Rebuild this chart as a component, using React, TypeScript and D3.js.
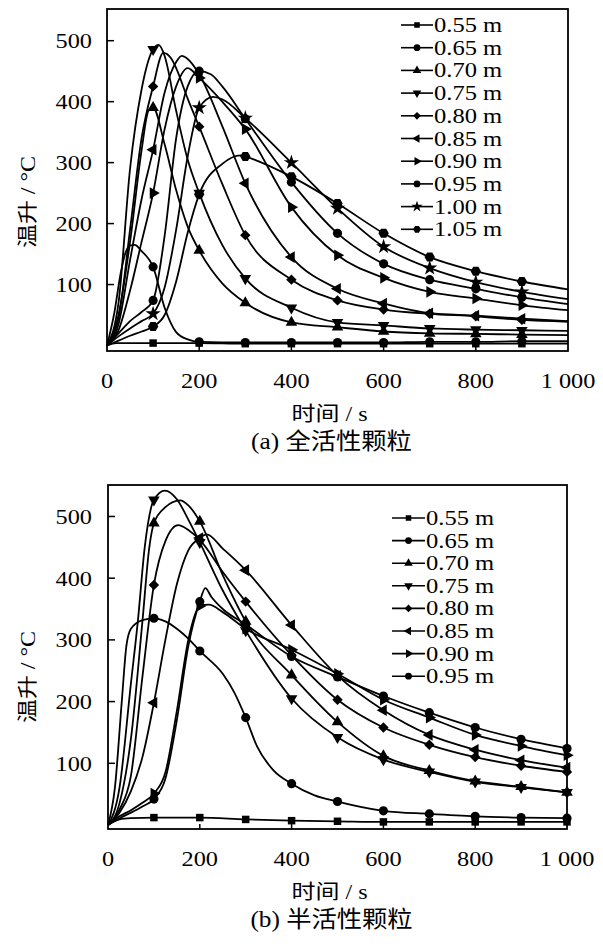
import React from 'react';
import * as d3 from 'd3';

type Pt = [number, number];

// ---------- data: panel (a) 全活性颗粒 ----------
const labelsA = ['0.55 m', '0.65 m', '0.70 m', '0.75 m', '0.80 m', '0.85 m', '0.90 m', '0.95 m', '1.00 m', '1.05 m'];
const symbolsA = ['square', 'circle', 'triUp', 'triDown', 'diamond', 'triLeft', 'triRight', 'circle', 'star', 'hexagon'];

const A_055: Pt[] = [[0, 0], [20, 4], [100, 4], [200, 4], [300, 3], [400, 3], [500, 3], [600, 3], [700, 3], [800, 3], [900, 3], [1000, 3]];
const A_065: Pt[] = [[0, 0], [15, 50], [30, 120], [40, 152], [50, 164], [60, 165], [75, 155], [100, 129], [125, 62], [150, 22], [175, 10], [200, 6], [300, 5], [400, 5], [500, 5], [600, 5], [700, 6], [800, 6], [900, 7], [1000, 7]];
const A_070: Pt[] = [[0, 0], [25, 50], [50, 170], [75, 320], [90, 385], [100, 390], [125, 330], [150, 255], [175, 195], [200, 156], [250, 102], [300, 70], [400, 38], [500, 30], [600, 23], [700, 20], [800, 19], [900, 18], [1000, 17]];
const A_075: Pt[] = [[0, 0], [25, 70], [50, 290], [75, 420], [100, 486], [112, 493], [125, 475], [150, 385], [175, 305], [200, 250], [250, 165], [300, 110], [400, 62], [500, 38], [600, 33], [700, 28], [800, 26], [900, 25], [1000, 24]];
const A_080: Pt[] = [[0, 0], [25, 45], [50, 190], [75, 340], [100, 425], [122, 480], [140, 470], [150, 455], [175, 405], [200, 359], [250, 265], [300, 181], [400, 108], [500, 74], [600, 59], [700, 52], [800, 48], [900, 42], [1000, 39]];
const A_085: Pt[] = [[0, 0], [25, 35], [50, 140], [75, 240], [100, 321], [125, 415], [150, 465], [162, 475], [175, 470], [200, 445], [250, 360], [300, 266], [400, 145], [500, 93], [600, 69], [700, 53], [800, 49], [900, 44], [1000, 40]];
const A_090: Pt[] = [[0, 0], [25, 25], [50, 90], [75, 170], [100, 250], [125, 355], [150, 425], [175, 455], [200, 439], [250, 400], [300, 355], [400, 227], [500, 148], [600, 111], [700, 88], [800, 77], [900, 66], [1000, 58]];
const A_095: Pt[] = [[0, 0], [25, 20], [50, 40], [75, 55], [100, 74], [125, 180], [150, 340], [175, 425], [200, 450], [225, 445], [250, 425], [300, 372], [400, 268], [500, 184], [600, 134], [700, 108], [800, 93], [900, 79], [1000, 68]];
const A_100: Pt[] = [[0, 0], [25, 15], [50, 28], [75, 40], [100, 52], [125, 95], [150, 190], [175, 310], [200, 390], [230, 408], [250, 404], [300, 373], [400, 300], [500, 225], [600, 162], [700, 127], [800, 104], [900, 88], [1000, 76]];
const A_105: Pt[] = [[0, 0], [25, 8], [50, 16], [75, 23], [100, 31], [125, 50], [150, 105], [175, 185], [200, 248], [250, 298], [290, 312], [300, 310], [400, 277], [500, 233], [600, 184], [700, 145], [800, 122], [900, 105], [1000, 92]];
const seriesA = [A_055, A_065, A_070, A_075, A_080, A_085, A_090, A_095, A_100, A_105];
const markerTimesA = [100, 200, 300, 400, 500, 600, 700, 800, 900];

// ---------- data: panel (b) 半活性颗粒 ----------
const labelsB = ['0.55 m', '0.65 m', '0.70 m', '0.75 m', '0.80 m', '0.85 m', '0.90 m', '0.95 m'];
const symbolsB = ['square', 'circle', 'triUp', 'triDown', 'diamond', 'triLeft', 'triRight', 'circle'];

const B_055: Pt[] = [[0, 0], [25, 9], [50, 11], [100, 12], [200, 12], [300, 9], [400, 7], [500, 6], [600, 5], [700, 5], [800, 5], [900, 5], [1000, 5]];
const B_065: Pt[] = [[0, 0], [15, 60], [30, 200], [40, 290], [50, 318], [75, 332], [100, 335], [125, 330], [150, 318], [175, 302], [200, 282], [250, 245], [275, 215], [300, 174], [325, 127], [360, 89], [400, 67], [450, 48], [500, 38], [600, 23], [700, 18], [800, 14], [900, 12], [1000, 11]];
const B_070: Pt[] = [[0, 0], [25, 35], [50, 140], [75, 330], [90, 450], [100, 489], [125, 515], [157, 526], [175, 518], [200, 492], [250, 405], [300, 330], [400, 243], [500, 167], [600, 112], [700, 88], [800, 71], [900, 62], [1000, 53]];
const B_075: Pt[] = [[0, 0], [25, 60], [50, 230], [65, 330], [80, 450], [100, 527], [124, 542], [150, 528], [175, 495], [200, 458], [250, 380], [300, 315], [400, 205], [500, 142], [600, 106], [700, 86], [800, 70], [900, 61], [1000, 53]];
const B_080: Pt[] = [[0, 0], [25, 25], [50, 80], [75, 240], [100, 389], [125, 460], [153, 486], [175, 478], [200, 462], [250, 410], [300, 362], [400, 275], [500, 203], [600, 158], [700, 130], [800, 110], [900, 96], [1000, 86]];
const B_085: Pt[] = [[0, 0], [25, 20], [50, 55], [75, 110], [100, 198], [125, 300], [150, 390], [175, 445], [200, 465], [215, 471], [250, 448], [300, 413], [400, 324], [500, 242], [600, 186], [700, 146], [800, 122], [900, 105], [1000, 93]];
const B_090: Pt[] = [[0, 0], [25, 14], [50, 24], [75, 36], [100, 51], [125, 85], [150, 185], [175, 300], [200, 355], [220, 357], [250, 345], [300, 318], [400, 284], [500, 245], [600, 203], [700, 174], [800, 146], [900, 128], [1000, 113]];
const B_095: Pt[] = [[0, 0], [25, 11], [50, 20], [75, 30], [100, 42], [125, 75], [150, 170], [175, 290], [200, 362], [212, 384], [225, 370], [250, 350], [300, 325], [400, 273], [500, 240], [600, 209], [700, 182], [800, 158], [900, 139], [1000, 124]];
const seriesB = [B_055, B_065, B_070, B_075, B_080, B_085, B_090, B_095];
const markerTimesB = [100, 200, 300, 400, 500, 600, 700, 800, 900, 1000];

// ---------- axes ----------
const yTicks = [100, 200, 300, 400, 500];
const yTickLabels = ['100', '200', '300', '400', '500'];
const xTicks = [0, 200, 400, 600, 800, 1000];
const xTickLabels = ['0', '200', '400', '600', '800', '1 000'];
const xTitle = '时间 / s';
const yTitle = '温升 / °C';
const captionA = '(a) 全活性颗粒';
const captionB = '(b) 半活性颗粒';

const FONT = '"Liberation Serif", "DejaVu Serif", "Noto Sans CJK SC", serif';

const hexagon = {
  draw(ctx: any, size: number) {
    const r = Math.sqrt(size / (1.5 * Math.sqrt(3)));
    for (let i = 0; i < 6; i++) {
      const a = (Math.PI / 3) * i;
      const x = r * Math.cos(a);
      const y = r * Math.sin(a);
      if (i === 0) ctx.moveTo(x, y);
      else ctx.lineTo(x, y);
    }
    ctx.closePath();
  },
};

function symbolFor(kind: string, scale: number): { d: string; rot: number } {
  const s = (t: any, size: number) => d3.symbol(t, size * scale)() as string;
  switch (kind) {
    case 'square': return { d: s(d3.symbolSquare, 56), rot: 0 };
    case 'circle': return { d: s(d3.symbolCircle, 66), rot: 0 };
    case 'triUp': return { d: s(d3.symbolTriangle, 58), rot: 0 };
    case 'triDown': return { d: s(d3.symbolTriangle, 58), rot: 180 };
    case 'triLeft': return { d: s(d3.symbolTriangle, 58), rot: -90 };
    case 'triRight': return { d: s(d3.symbolTriangle, 58), rot: 90 };
    case 'diamond': return { d: s(d3.symbolSquare, 54), rot: 45 };
    case 'star': return { d: s(d3.symbolStar, 72), rot: 0 };
    case 'hexagon': return { d: s(hexagon, 70), rot: 0 };
    default: return { d: s(d3.symbolCircle, 66), rot: 0 };
  }
}

// text with horizontal stretch (the reference type is wider than Liberation Serif)
function T(props: {
  x: number;
  y: number;
  size: number;
  sx: number;
  anchor?: string;
  rotate?: number;
  dy?: string;
  children: React.ReactNode;
}) {
  const { x, y, size, sx, anchor = 'start', rotate = 0, dy, children } = props;
  return (
    <text
      transform={`translate(${x},${y}) rotate(${rotate}) scale(${sx},1)`}
      textAnchor={anchor}
      dy={dy}
      fontSize={size}
      style={{ fontFamily: FONT }}
      fill="#000"
    >
      {children}
    </text>
  );
}

interface PanelProps {
  series: Pt[][];
  labels: string[];
  symbols: string[];
  markerTimes: number[];
  xRange: [number, number];
  yDomain: [number, number];
  yRange: [number, number];
  legendX: [number, number];
  legendY0: number;
  legendDy: number;
  yTitleY: number;
  xTitleY: number;
  caption: string;
  captionY: number;
}

function Panel(p: PanelProps) {
  const x = d3.scaleLinear().domain([0, 1000]).range(p.xRange);
  const y = d3.scaleLinear().domain(p.yDomain).range(p.yRange);
  const line = d3
    .line<Pt>()
    .x((d) => x(d[0]))
    .y((d) => y(d[1]))
    .curve(d3.curveMonotoneX);
  const [x0, x1] = p.xRange;
  const [yb, yt] = p.yRange;
  const cx = (x0 + x1) / 2;
  return (
    <g>
      {p.series.map((s, i) => (
        <path key={'l' + i} d={line(s) as string} fill="none" stroke="#000" strokeWidth={1.8} />
      ))}
      {p.series.map((s, i) => {
        const sym = symbolFor(p.symbols[i], 1);
        return s
          .filter((d) => p.markerTimes.includes(d[0]))
          .map((d, j) => (
            <path
              key={'m' + i + '-' + j}
              d={sym.d}
              transform={`translate(${x(d[0])},${y(d[1])}) rotate(${sym.rot})`}
              fill="#000"
            />
          ));
      })}
      <rect x={x0} y={yt} width={x1 - x0} height={yb - yt} fill="none" stroke="#000" strokeWidth={1.8} />
      {yTicks.map((t, i) => (
        <g key={'yt' + i}>
          <line x1={x0} x2={x0 + 7} y1={y(t)} y2={y(t)} stroke="#000" strokeWidth={1.5} />
          <T x={92} y={y(t)} dy="0.35em" anchor="end" size={21.5} sx={1.13}>
            {yTickLabels[i]}
          </T>
        </g>
      ))}
      {xTicks.map((t, i) => (
        <g key={'xt' + i}>
          {t > 0 && t < 1000 && (
            <line x1={x(t)} x2={x(t)} y1={yb} y2={yb - 5} stroke="#000" strokeWidth={1.5} />
          )}
          <T x={x(t)} y={yb + 37} anchor="middle" size={21.5} sx={1.13}>
            {xTickLabels[i]}
          </T>
        </g>
      ))}
      {p.labels.map((lab, i) => {
        const ly = p.legendY0 + i * p.legendDy;
        const sym = symbolFor(p.symbols[i], 0.55);
        const mx = (p.legendX[0] + p.legendX[1]) / 2;
        return (
          <g key={'lg' + i}>
            <line x1={p.legendX[0]} x2={p.legendX[1]} y1={ly} y2={ly} stroke="#000" strokeWidth={1.6} />
            <path d={sym.d} transform={`translate(${mx},${ly}) rotate(${sym.rot})`} fill="#000" />
            <T x={p.legendX[1] + 1} y={ly + 7} size={21} sx={1.17}>
              {lab}
            </T>
          </g>
        );
      })}
      <T x={28} y={p.yTitleY} rotate={-90} anchor="middle" dy="0.35em" size={20} sx={1.2}>
        {yTitle}
      </T>
      <T x={cx - 8} y={p.xTitleY} anchor="middle" size={20} sx={1.2}>
        {xTitle}
      </T>
      <T x={cx - 6} y={p.captionY} anchor="middle" size={23} sx={1.1}>
        {p.caption}
      </T>
    </g>
  );
}

export default function App() {
  return (
    <svg
      width={603}
      height={950}
      viewBox="0 0 603 950"
      style={{ position: 'absolute', left: 0, top: 0, background: '#fff' }}
    >
      <rect x={0} y={0} width={603} height={950} fill="#fff" />
      <Panel
        series={seriesA}
        labels={labelsA}
        symbols={symbolsA}
        markerTimes={markerTimesA}
        xRange={[107, 568]}
        yDomain={[-9, 552]}
        yRange={[351, 9]}
        legendX={[401, 433]}
        legendY0={25}
        legendDy={22.7}
        yTitleY={202}
        xTitleY={421}
        caption={captionA}
        captionY={449}
      />
      <Panel
        series={seriesB}
        labels={labelsB}
        symbols={symbolsB}
        markerTimes={markerTimesB}
        xRange={[108, 567]}
        yDomain={[-6.5, 551]}
        yRange={[829, 485]}
        legendX={[392, 425]}
        legendY0={518}
        legendDy={22.6}
        yTitleY={677}
        xTitleY={899}
        caption={captionB}
        captionY={927}
      />
    </svg>
  );
}
